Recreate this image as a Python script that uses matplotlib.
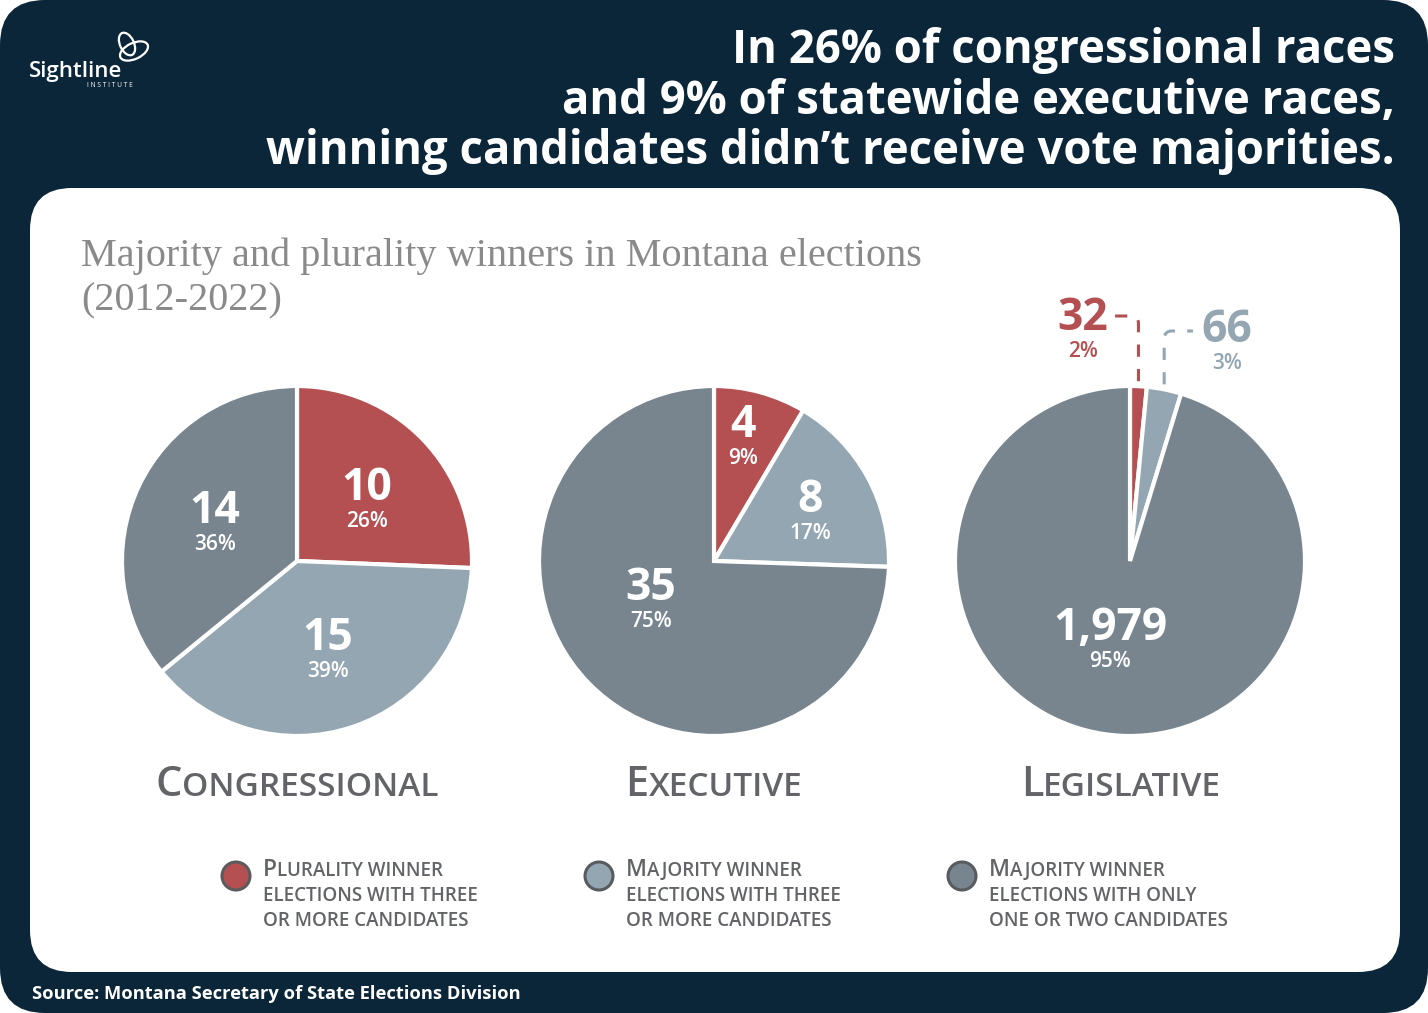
import matplotlib
matplotlib.use("Agg")
import matplotlib.pyplot as plt
from matplotlib.patches import FancyBboxPatch, Circle, Ellipse
import numpy as np

W, H = 1428, 1013

# data
races = ["Congressional", "Executive", "Legislative"]
plurality = [10, 4, 32]
majority_multi = [15, 8, 66]
majority_few = [14, 35, 1979]
pct_labels = [["26%", "39%", "36%"], ["9%", "17%", "75%"], ["2%", "3%", "95%"]]
legend_labels = [
    ["Plurality winner", "elections with three", "or more candidates"],
    ["Majority winner", "elections with three", "or more candidates"],
    ["Majority winner", "elections with only", "one or two candidates"],
]
title_lines = ["In 26% of congressional races",
               "and 9% of statewide executive races,",
               "winning candidates didn\u2019t receive vote majorities."]

navy = "#0b2539"
red = "#b55052"
light = "#93a6b2"
dark = "#78858f"
gray = "#636467"
colors = [red, light, dark]

FONT = "Open Sans"

fig = plt.figure(figsize=(W / 100, H / 100), dpi=100)
fig.patch.set_facecolor("white")
bg = fig.add_axes([0, 0, 1, 1])
bg.set_xlim(0, W)
bg.set_ylim(H, 0)
bg.axis("off")
r = fig.canvas.get_renderer()

bg.add_patch(FancyBboxPatch((0, 0), W, H, boxstyle="round,pad=0,rounding_size=45",
                            fc=navy, ec="none"))
bg.add_patch(FancyBboxPatch((30, 188), 1370, 784, boxstyle="round,pad=0,rounding_size=42",
                            fc="white", ec="none"))

# logo
bg.add_patch(Ellipse((127, 44), 14, 24, angle=-25, fill=False, ec="white", lw=1.6))
bg.add_patch(Ellipse((134, 51), 30, 16, angle=-25, fill=False, ec="white", lw=1.6))
bg.text(29, 77, "Sightline", color="white", fontsize=16, fontweight="semibold",
        family=FONT, va="baseline")
bg.text(133, 87, "I N S T I T U T E", color="white", fontsize=4.8, family=FONT,
        va="baseline", ha="right")

# title
for i, line in enumerate(title_lines):
    bg.text(1395, 63 + 50.5 * i, line, color="white", fontsize=32.8, fontweight="bold",
            family=FONT, ha="right", va="baseline")

# subtitle
bg.text(81, 266, "Majority and plurality winners in Montana elections", color="#8a8a8a",
        fontsize=29, family="Liberation Serif", va="baseline")
bg.text(81, 310, "(2012-2022)", color="#8a8a8a", fontsize=29,
        family="Liberation Serif", va="baseline")


def smallcaps(x, y, first, rest, big, small, ha="left", color=gray, weight="bold"):
    t1 = bg.text(0, y, first, fontsize=big, color=color, family=FONT,
                 fontweight=weight, va="baseline")
    t2 = bg.text(0, y, rest, fontsize=small, color=color, family=FONT,
                 fontweight=weight, va="baseline")
    w1 = t1.get_window_extent(r).width
    w2 = t2.get_window_extent(r).width
    x0 = x - (w1 + w2) / 2 if ha == "center" else x
    t1.set_x(x0)
    t2.set_x(x0 + w1)


# pies
centers = [(297, 561), (714, 561), (1130, 561)]
R = 175
# label baseline offsets from the pie centre (pixels); None -> callout above the pie
label_off = [[(70, -61), (31, 89), (-82, -38)],
             [(29, -124), (96, -49), (-63, 39)],
             [None, None, (-20, 79)]]
callouts = [(316, 1112, 1083, 330), (331, 1193, 1227, 342)]
for k in range(3):
    vals = [plurality[k], majority_multi[k], majority_few[k]]
    cx, cy = centers[k]
    ax = fig.add_axes([(cx - R) / W, 1 - (cy + R) / H, 2 * R / W, 2 * R / H])
    ax.pie(vals, colors=colors, startangle=90, counterclock=False, radius=1,
           wedgeprops=dict(edgecolor="white", linewidth=3))
    ax.set_xlim(-1, 1)
    ax.set_ylim(-1, 1)
    ax.axis("off")

    tot = float(sum(vals))
    start = 0.0
    for j, v in enumerate(vals):
        span = 360 * v / tot
        mid = start + span / 2  # clockwise from top
        start += span
        if label_off[k][j] is None:
            # dashed callout above the pie
            xline = cx + R * np.sin(np.radians(mid))
            ytop = cy - R * np.cos(np.radians(mid)) - 5
            c = colors[j]
            ybend, xend, lx, ly = callouts[j]
            sgn = -1 if j == 0 else 1
            rad = 7
            th = np.linspace(0, np.pi / 2, 8)
            xs = [xline, xline] + list(xline + sgn * rad * (1 - np.cos(th))) + [xend]
            ys = [ytop, ybend + rad] + list(ybend + rad - rad * np.sin(th)) + [ybend]
            bg.plot(xs, ys, color=c, lw=2.2, dashes=(4, 4), solid_capstyle="butt")
            bg.text(lx, ly, f"{vals[j]:,}", color=c, fontsize=32, fontweight="bold",
                    family=FONT, ha="center", va="baseline")
            bg.text(lx, ly + 27, pct_labels[k][j], color=c, fontsize=15,
                    fontweight="semibold", family=FONT, ha="center", va="baseline")
            continue
        dx, dy = label_off[k][j]
        ax.text(cx + dx, cy + dy, f"{vals[j]:,}", color="white", fontsize=32,
                fontweight="bold", family=FONT, ha="center", va="baseline",
                transform=bg.transData, clip_on=False)
        ax.text(cx + dx, cy + dy + 27, pct_labels[k][j], color="white", fontsize=15,
                fontweight="semibold", family=FONT, ha="center", va="baseline",
                transform=bg.transData, clip_on=False)

    name = races[k].upper()
    smallcaps(cx if k < 2 else cx - 9, 796, name[0], name[1:], 30, 24, ha="center",
              weight="semibold")

# legend
leg_x = [236, 599, 962]
for k in range(3):
    bg.add_patch(Circle((leg_x[k], 876), 14, fc=colors[k], ec="#5a5b5e", lw=2.2))
    lines = legend_labels[k]
    first = lines[0].upper()
    smallcaps(leg_x[k] + 27, 876, first[0], first[1:], 16.5, 13.5, weight="semibold")
    for i in (1, 2):
        bg.text(leg_x[k] + 27, 876 + 25 * i, lines[i].upper(), fontsize=13.5, color=gray,
                family=FONT, fontweight="semibold", va="baseline")

bg.text(32, 999, "Source: Montana Secretary of State Elections Division", color="white",
        fontsize=13.2, fontweight="bold", family=FONT, va="baseline")

fig.savefig("out.png", dpi=100, facecolor="white")
